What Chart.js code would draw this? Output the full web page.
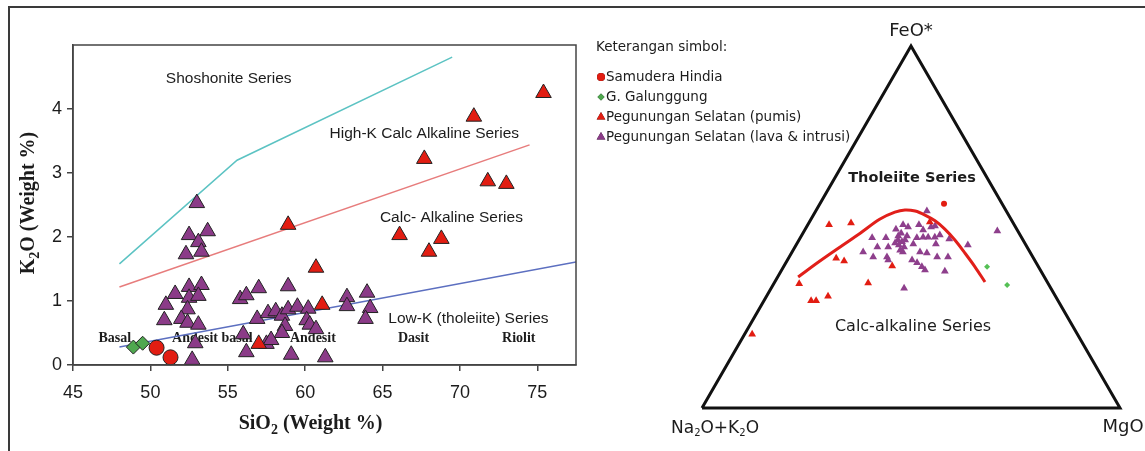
<!DOCTYPE html>
<html>
<head>
<meta charset="utf-8">
<script src="https://cdn.jsdelivr.net/npm/chart.js@4.4.1/dist/chart.umd.min.js"></script>
<style>
  body { margin: 0; background: #fff; width: 1145px; height: 451px; overflow: hidden; position: relative; }
  #frame { position: absolute; left: 8px; top: 6px; width: 1300px; height: 600px; border-top: 2px solid #3a3a3a; border-left: 2px solid #3a3a3a; }
  #k2o { position: absolute; left: 0; top: 0; }
  #afm { position: absolute; left: 590px; top: 0; }
</style>
</head>
<body>
<div id="frame"></div>
<canvas id="k2o" width="600" height="451"></canvas>
<canvas id="afm" width="555" height="451"></canvas>
<script>
// ---- K2O vs SiO2 (weight %) ----
const samuderaSiO2 = [50.4, 51.3];
const samuderaK2O = [0.27, 0.12];
const galunggungSiO2 = [48.9, 49.5];
const galunggungK2O = [0.28, 0.34];
const pumisSiO2 = [57.0, 58.9, 60.7, 61.1, 66.1, 67.7, 68.0, 68.8, 70.9, 71.8, 73.0, 75.4];
const pumisK2O = [0.33, 2.19, 1.52, 0.94, 2.03, 3.22, 1.77, 1.97, 3.88, 2.87, 2.83, 4.25];
const lavaSiO2 = [53.0, 52.5, 53.7, 53.1, 52.3, 53.3, 51.6, 52.5, 53.3, 52.5, 53.1, 51.0, 52.4, 50.9, 52.0, 52.4,
  53.1, 52.9, 52.7, 55.8, 56.2, 56.0, 56.2, 57.0, 58.9, 56.9, 57.6, 58.1, 58.5, 58.9, 59.5, 60.2, 62.7, 62.7,
  58.7, 58.5, 60.1, 60.3, 60.7, 57.5, 57.8, 59.1, 61.3, 64.0, 64.2, 63.9];
const lavaK2O = [2.53, 2.03, 2.09, 1.92, 1.73, 1.77, 1.11, 1.22, 1.25, 1.05, 1.08, 0.94, 0.87, 0.70, 0.72, 0.66,
  0.63, 0.34, 0.08, 1.03, 1.09, 0.48, 0.20, 1.20, 1.23, 0.72, 0.81, 0.84, 0.77, 0.87, 0.91, 0.88, 1.06, 0.92,
  0.61, 0.50, 0.70, 0.63, 0.56, 0.33, 0.39, 0.16, 0.12, 1.13, 0.89, 0.72];

// series boundaries
const shoshoniteSiO2 = [48, 55.6, 69.5];
const shoshoniteK2O = [1.58, 3.2, 4.81];
const highKSiO2 = [48, 74.5];
const highKK2O = [1.22, 3.44];
const lowKSiO2 = [48, 77.5];
const lowKK2O = [0.28, 1.61];

// ---- AFM ternary (A = Na2O+K2O, F = FeO*, M = MgO, %) ----
const lavaA = [19.0, 26.6, 25.7, 28.9, 22.8, 22.5, 20.2, 19.1, 35.8, 32.5, 29.3, 27.2, 25.1, 23.5, 22.3, 20.7,
  19.2, 17.5, 29.2, 30.4, 29.4, 35.8, 33.2, 21.4, 13.9, 39.9, 38.2, 34.9, 30.4, 26.3, 24.8, 22.9, 20.3, 29.3,
  28.5, 27.9, 27.6, 35.0, 23.0, 35.1, 4.9, 29.9, 28.2, 31.0, 28.2, 30.8, 26.8];
const lavaF = [54.4, 50.6, 50.0, 49.4, 50.6, 49.2, 50.0, 50.3, 47.0, 47.0, 47.5, 47.5, 47.0, 47.2, 47.2, 47.2,
  47.8, 46.7, 45.9, 45.0, 44.5, 44.5, 44.5, 45.3, 45.0, 43.1, 41.7, 41.7, 43.1, 43.1, 42.8, 41.7, 41.7, 40.9,
  40.1, 39.0, 38.1, 40.9, 37.8, 33.1, 48.9, 46.4, 48.3, 45.6, 46.4, 43.6, 45.3];
const lavaM = [26.6, 22.8, 24.3, 21.7, 26.6, 28.3, 29.8, 30.6, 17.2, 20.5, 23.2, 25.3, 27.9, 29.3, 30.5, 32.1,
  33.0, 35.8, 24.9, 24.6, 26.1, 19.7, 22.3, 33.3, 41.1, 17.0, 20.1, 23.4, 26.5, 30.6, 32.4, 35.4, 38.0, 29.8,
  31.4, 33.1, 34.3, 24.1, 39.2, 31.8, 46.2, 23.7, 23.5, 23.4, 25.4, 25.6, 27.9];
const pumisA = [44.3, 38.8, 47.2, 45.7, 59.6, 59.1, 57.9, 54.4, 43.0, 77.8, 34.9, 19.8];
const pumisF = [50.6, 51.1, 41.4, 40.6, 34.3, 29.6, 29.6, 30.9, 34.5, 20.4, 39.2, 51.4];
const pumisM = [5.1, 10.1, 11.4, 13.7, 6.1, 11.3, 12.5, 14.7, 22.5, 1.8, 25.9, 28.8];
const samuderaA = [13.9];
const samuderaF = [56.4];
const samuderaM = [29.7];
const galunggungA = [12.3, 10.0];
const galunggungF = [39.0, 34.0];
const galunggungM = [48.7, 56.0];
// tholeiite / calc-alkaline boundary
const boundaryA = [58.9, 51.5, 44.7, 38.0, 31.3, 26.8, 24.1, 21.8, 20.0, 18.4, 17.2, 16.3, 15.7, 15.2, 14.9];
const boundaryF = [36.2, 40.6, 44.5, 48.3, 52.2, 54.1, 54.7, 54.4, 53.3, 51.7, 49.4, 46.4, 42.8, 39.0, 34.8];
const boundaryM = [4.9, 7.9, 10.8, 13.7, 16.5, 19.1, 21.2, 23.8, 26.7, 29.9, 33.4, 37.3, 41.5, 45.8, 50.3];

const PURPLE = '#8b3b88';
const RED = '#e21d12';
const GREEN = '#4fa84f';
const INK = '#1c1c1c';

const xy = (xs, ys) => xs.map((x, i) => ({ x: x, y: ys[i] }));
function tern(a, f, m) {
  const s = a + f + m;
  return { x: (m + f / 2) / s, y: f / s };
}
const ternSeries = (A, F, M) => A.map((a, i) => tern(a, F[i], M[i]));

// text with subscript pieces: [[text, isSub], ...]
function drawSub(ctx, parts, x, y, font, subFont, align, drop) {
  let w = 0;
  parts.forEach(p => { ctx.font = p[1] ? subFont : font; w += ctx.measureText(p[0]).width; });
  let cx = align === 'center' ? x - w / 2 : x;
  ctx.textAlign = 'left';
  ctx.textBaseline = 'alphabetic';
  parts.forEach(p => {
    ctx.font = p[1] ? subFont : font;
    ctx.fillText(p[0], cx, p[1] ? y + (drop || 5) : y);
    cx += ctx.measureText(p[0]).width;
  });
}

const seriesNotes = [
  { text: 'Shoshonite Series', x: 55.06, y: 4.47 },
  { text: 'High-K Calc Alkaline Series', x: 67.7, y: 3.61 },
  { text: 'Calc- Alkaline Series', x: 69.45, y: 2.30 },
  { text: 'Low-K (tholeiite) Series', x: 70.55, y: 0.73 }
];
const rockNotes = [
  { text: 'Basal', x: 47.7 }, { text: 'Andesit basal', x: 54.0 }, { text: 'Andesit', x: 60.5 },
  { text: 'Dasit', x: 67.0 }, { text: 'Riolit', x: 73.8 }
];

const k2oText = {
  id: 'k2oText',
  beforeDatasetsDraw(chart) {
    const { ctx, scales: { x, y } } = chart;
    ctx.save();
    ctx.fillStyle = INK;
    ctx.textAlign = 'center';
    ctx.textBaseline = 'middle';
    ctx.font = '15.5px "Liberation Sans", Arial, sans-serif';
    seriesNotes.forEach(n => ctx.fillText(n.text, x.getPixelForValue(n.x), y.getPixelForValue(n.y)));
    ctx.font = 'bold 14px "Liberation Serif", "Times New Roman", serif';
    rockNotes.forEach(n => ctx.fillText(n.text, x.getPixelForValue(n.x), y.getPixelForValue(0.41)));
    ctx.restore();
  },
  afterDraw(chart) {
    const { ctx, chartArea: a } = chart;
    ctx.save();
    ctx.strokeStyle = '#444';
    ctx.lineWidth = 1.5;
    ctx.strokeRect(a.left, a.top, a.right - a.left, a.bottom - a.top);
    ctx.fillStyle = INK;
    const f = 'bold 20px "Liberation Serif", "Times New Roman", serif';
    const sf = 'bold 14px "Liberation Serif", "Times New Roman", serif';
    drawSub(ctx, [['SiO', 0], ['2', 1], [' (Weight %)', 0]], (a.left + a.right) / 2 - 14, 429, f, sf, 'center');
    ctx.translate(34, (a.top + a.bottom) / 2 - 2);
    ctx.rotate(-Math.PI / 2);
    drawSub(ctx, [['K', 0], ['2', 1], ['O (Weight %)', 0]], 0, 0, f, sf, 'center');
    ctx.restore();
  }
};

const axisCommon = {
  type: 'linear',
  ticks: { font: { family: '"Liberation Sans", Arial, sans-serif', size: 18 }, color: INK, includeBounds: false },
  grid: { drawOnChartArea: false, tickLength: 6, lineWidth: 1.5,
    color: c => (c.tick && c.tick.value === 5 && c.scale.axis === 'y' ? 'rgba(0,0,0,0)' : '#444') },
  border: { color: '#444', width: 1.5 }
};

new Chart(document.getElementById('k2o'), {
  type: 'scatter',
  data: {
    datasets: [
      { label: 'Samudera Hindia', data: xy(samuderaSiO2, samuderaK2O), pointStyle: 'circle', pointRadius: 7.5,
        backgroundColor: RED, borderColor: '#222', borderWidth: 1, clip: false, order: 1 },
      { label: 'G. Galunggung', data: xy(galunggungSiO2, galunggungK2O), pointStyle: 'rectRot', pointRadius: 7,
        backgroundColor: GREEN, borderColor: '#222', borderWidth: 1, clip: false, order: 1 },
      { label: 'Pegunungan Selatan (pumis)', data: xy(pumisSiO2, pumisK2O), pointStyle: 'triangle', pointRadius: 9,
        backgroundColor: RED, borderColor: '#222', borderWidth: 1, clip: false, order: 2 },
      { label: 'Pegunungan Selatan (lava & intrusi)', data: xy(lavaSiO2, lavaK2O), pointStyle: 'triangle', pointRadius: 9,
        backgroundColor: PURPLE, borderColor: '#222', borderWidth: 1, clip: false, order: 3 },
      { label: 'Shoshonite', data: xy(shoshoniteSiO2, shoshoniteK2O), showLine: true, pointRadius: 0,
        borderColor: '#5cc3c3', borderWidth: 1.5, order: 10 },
      { label: 'High-K', data: xy(highKSiO2, highKK2O), showLine: true, pointRadius: 0,
        borderColor: '#e77c7c', borderWidth: 1.5, order: 10 },
      { label: 'Low-K', data: xy(lowKSiO2, lowKK2O), showLine: true, pointRadius: 0,
        borderColor: '#5c6fc0', borderWidth: 1.5, order: 10 }
    ]
  },
  options: {
    responsive: false,
    animation: false,
    layout: { padding: { left: 0, top: 45, right: 24, bottom: 0 } },
    plugins: { legend: { display: false }, tooltip: { enabled: false } },
    scales: {
      x: Object.assign({}, axisCommon, {
        min: 45, max: 77.5,
        ticks: Object.assign({}, axisCommon.ticks, { stepSize: 5, padding: 11 }),
        afterFit: s => { s.height = 86; }
      }),
      y: Object.assign({}, axisCommon, {
        min: 0, max: 5,
        ticks: Object.assign({}, axisCommon.ticks, { stepSize: 1, padding: 5, callback: v => (v === 5 ? '' : v) }),
        afterFit: s => { s.width = 73; }
      })
    }
  },
  plugins: [k2oText]
});

// ---- AFM ----
const legendItems = [
  { text: 'Samudera Hindia', style: 'circle', r: 4, color: RED },
  { text: 'G. Galunggung', style: 'rectRot', r: 3.5, color: GREEN },
  { text: 'Pegunungan Selatan (pumis)', style: 'triangle', r: 5, color: RED },
  { text: 'Pegunungan Selatan (lava & intrusi)', style: 'triangle', r: 5, color: PURPLE }
];

const afmText = {
  id: 'afmText',
  afterDraw(chart) {
    const { ctx } = chart;
    const sans = '"DejaVu Sans", Verdana, sans-serif';
    ctx.save();
    ctx.fillStyle = INK;
    ctx.textBaseline = 'middle';
    ctx.textAlign = 'left';
    ctx.font = '13.5px ' + sans;
    ctx.fillText('Keterangan simbol:', 6, 47);
    legendItems.forEach((it, i) => {
      const y = 77 + i * 20;
      Chart.helpers.drawPoint(ctx, { pointStyle: it.style, radius: it.r, rotation: 0, borderWidth: 0 }, 11, y);
      ctx.fillStyle = it.color;
      ctx.fill();
      ctx.fillStyle = INK;
      ctx.fillText(it.text, 16, y);
    });
    ctx.textAlign = 'center';
    ctx.font = '18px ' + sans;
    ctx.fillText('FeO*', 321, 31);
    ctx.fillText('MgO', 533, 427);
    drawSub(ctx, [['Na', 0], ['2', 1], ['O+K', 0], ['2', 1], ['O', 0]], 125, 433, '17px ' + sans, '10px ' + sans, 'center', 3);
    ctx.textBaseline = 'middle';
    ctx.textAlign = 'center';
    ctx.font = 'bold 14.5px ' + sans;
    ctx.fillText('Tholeiite Series', 322, 178);
    ctx.font = '16px ' + sans;
    ctx.fillText('Calc-alkaline Series', 323, 327);
    ctx.restore();
  }
};

new Chart(document.getElementById('afm'), {
  type: 'scatter',
  data: {
    datasets: [
      { label: 'frame', data: [tern(100, 0, 0), tern(0, 100, 0), tern(0, 0, 100), tern(100, 0, 0)],
        showLine: true, pointRadius: 0, borderColor: '#111', borderWidth: 3, borderJoinStyle: 'miter', clip: false, order: 10 },
      { label: 'boundary', data: ternSeries(boundaryA, boundaryF, boundaryM), showLine: true, pointRadius: 0,
        borderColor: '#e11f1a', borderWidth: 3, tension: 0.35, clip: false, order: 0 },
      { label: 'Pegunungan Selatan (lava & intrusi)', data: ternSeries(lavaA, lavaF, lavaM), pointStyle: 'triangle',
        pointRadius: 4.5, backgroundColor: '#8e3f8c', borderWidth: 0, clip: false, order: 3 },
      { label: 'Pegunungan Selatan (pumis)', data: ternSeries(pumisA, pumisF, pumisM), pointStyle: 'triangle',
        pointRadius: 4.5, backgroundColor: RED, borderWidth: 0, clip: false, order: 2 },
      { label: 'Samudera Hindia', data: ternSeries(samuderaA, samuderaF, samuderaM), pointStyle: 'circle',
        pointRadius: 3, backgroundColor: RED, borderWidth: 0, clip: false, order: 1 },
      { label: 'G. Galunggung', data: ternSeries(galunggungA, galunggungF, galunggungM), pointStyle: 'rectRot',
        pointRadius: 3, backgroundColor: '#55c055', borderWidth: 0, clip: false, order: 1 }
    ]
  },
  options: {
    responsive: false,
    animation: false,
    layout: { padding: { left: 112, right: 25, top: 46, bottom: 43 } },
    plugins: { legend: { display: false }, tooltip: { enabled: false } },
    scales: {
      x: { type: 'linear', min: 0, max: 1, display: false },
      y: { type: 'linear', min: 0, max: 1, display: false }
    }
  },
  plugins: [afmText]
});
</script>
</body>
</html>
